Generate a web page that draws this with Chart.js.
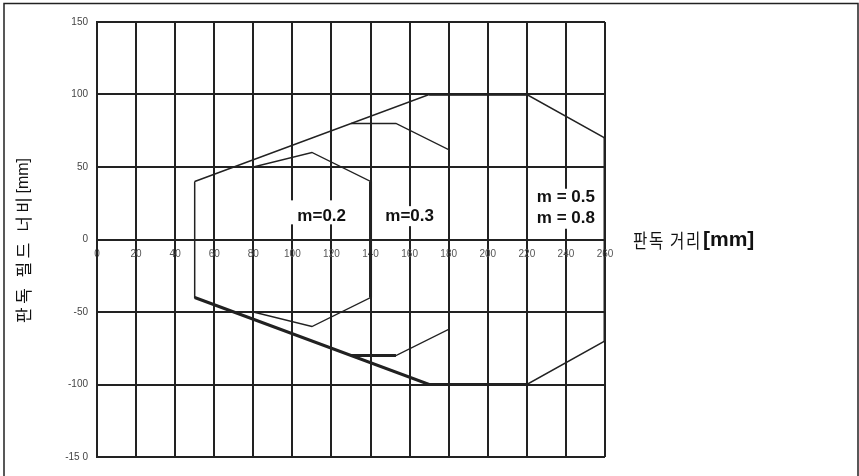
<!DOCTYPE html>
<html>
<head>
<meta charset="utf-8">
<script src="https://cdn.jsdelivr.net/npm/chart.js@4"></script>
<style>
  html, body { margin: 0; padding: 0; background: #fff; }
  #wrap { width: 859px; height: 476px; }
</style>
</head>
<body>
<div id="wrap"><canvas id="fieldChart"></canvas></div>
<script>
// 판독 필드 (거리 vs 너비), 값은 그림에서 읽음
const xTicks = [0, 20, 40, 60, 80, 100, 120, 140, 160, 180, 200, 220, 240, 260];
const yTicks = [150, 100, 50, 0, -50, -100, -150];
const yTickLabels = ['150', '100', '50', '0', '-50', '-100', '-15 0'];

// m = 0.5 / m = 0.8 (바깥 영역)
const outerX = [50, 170, 220, 260, 260, 220, 170, 50, 50];
const outerY = [40, 100, 100, 70, -70, -100, -100, -40, 40];
// m = 0.3
const m03X = [130, 153, 180, 180, 153, 130];
const m03Y = [80, 80, 62, -62, -80, -80];
// m = 0.2
const m02X = [70, 80, 110, 140, 140, 110, 80, 70];
const m02Y = [50, 50, 60, 40, -40, -60, -50, -50];
// 굵게 그려진 부분
const boldLowerX = [50, 170, 220];
const boldLowerY = [-40, -100, -100];
const boldTopX = [170, 220];
const boldTopY = [100, 100];
const boldRightX = [260, 260];
const boldRightY = [70, -70];
const boldM02X = [140, 140];
const boldM02Y = [40, -40];
const boldM03X = [130, 153];
const boldM03Y = [-80, -80];

const seriesLabels = ['m=0.2', 'm=0.3', 'm = 0.5', 'm = 0.8'];
const xTitle = '판독 거리';
const yTitle = '판독 필드 너비';
const unit = '[mm]';

const ink = '#222';

function pts(xs, ys) {
    return xs.map((x, i) => ({ x: x, y: ys[i] }));
}

function lineSet(label, xs, ys, width) {
    return {
        label: label,
        data: pts(xs, ys),
        showLine: true,
        borderColor: ink,
        borderWidth: width,
        pointRadius: 0,
        fill: false,
        tension: 0
    };
}

// 영역 이름 (데이터 좌표 위치)
const notes = [
    { text: seriesLabels[0], x: 115, y: 16 },
    { text: seriesLabels[1], x: 160, y: 16 },
    { text: seriesLabels[2], x: 240, y: 29 },
    { text: seriesLabels[3], x: 240, y: 14.5 }
];

const extras = {
    id: 'extras',
    afterDatasetsDraw(chart) {
        const c = chart.ctx;
        const xs = chart.scales.x, ys = chart.scales.y;
        c.save();
        // 글자 뒤 흰 바탕
        c.fillStyle = '#fff';
        c.fillRect(xs.getPixelForValue(99), ys.getPixelForValue(27), 64, 24);
        c.fillRect(xs.getPixelForValue(144), ys.getPixelForValue(23), 62, 20);
        c.fillRect(xs.getPixelForValue(222), ys.getPixelForValue(35), 70, 40);

        c.fillStyle = '#111';
        c.font = 'bold 17px "Liberation Sans", Arial, sans-serif';
        c.textAlign = 'center';
        c.textBaseline = 'middle';
        notes.forEach(n => {
            c.fillText(n.text, xs.getPixelForValue(n.x), ys.getPixelForValue(n.y));
        });

        // x축 제목 (오른쪽)
        const ty = ys.getPixelForValue(0) + 1;
        c.textAlign = 'left';
        c.save();
        c.translate(633, ty);
        c.scale(0.82, 1);
        c.font = '19px "Noto Sans CJK KR", sans-serif';
        c.letterSpacing = '2px';
        c.fillText(xTitle, 0, 0);
        const w = c.measureText(xTitle).width * 0.82;
        c.restore();
        c.font = 'bold 21px "Liberation Sans", Arial, sans-serif';
        c.fillText(unit, 633 + w + 1, ty);

        // y축 제목 (세로, 아래에서 위로)
        c.save();
        c.translate(24, 323);
        c.rotate(-Math.PI / 2);
        c.textAlign = 'left';
        c.font = '17px "Noto Sans CJK KR", sans-serif';
        c.letterSpacing = '3.5px';
        c.fillText(yTitle, 0, 0);
        const wy = c.measureText(yTitle).width;
        c.letterSpacing = '0px';
        c.font = '16px "Liberation Sans", Arial, sans-serif';
        c.fillText(unit, wy, 0);
        c.restore();

        // 바깥 테두리
        c.strokeStyle = ink;
        c.lineWidth = 1.5;
        c.beginPath();
        c.moveTo(4, 490);
        c.lineTo(4, 3.5);
        c.lineTo(858, 3.5);
        c.lineTo(858, 490);
        c.stroke();
        c.restore();
    }
};

new Chart(document.getElementById('fieldChart'), {
    type: 'scatter',
    data: {
        datasets: [
            lineSet('m = 0.5 / 0.8', outerX, outerY, 1.5),
            lineSet('m = 0.3', m03X, m03Y, 1.3),
            lineSet('m = 0.2', m02X, m02Y, 1.3),
            lineSet('b1', boldLowerX, boldLowerY, 3),
            lineSet('b2', boldTopX, boldTopY, 2.5),
            lineSet('b3', boldRightX, boldRightY, 3),
            lineSet('b4', boldM02X, boldM02Y, 3),
            lineSet('b5', boldM03X, boldM03Y, 3)
        ]
    },
    options: {
        responsive: true,
        maintainAspectRatio: false,
        animation: false,
        events: [],
        layout: { padding: { top: 22, right: 254, bottom: 19, left: 0 } },
        plugins: {
            legend: { display: false },
            tooltip: { enabled: false }
        },
        scales: {
            x: {
                type: 'linear',
                position: { y: 0 },
                min: 0,
                max: 260,
                afterBuildTicks: s => { s.ticks = xTicks.map(v => ({ value: v })); },
                grid: { color: ink, lineWidth: 2, drawTicks: false },
                border: { color: ink, width: 2 },
                ticks: {
                    autoSkip: false,
                    maxRotation: 0,
                    padding: 9,
                    color: '#555',
                    font: { family: '"Liberation Sans", Arial, sans-serif', size: 10 }
                }
            },
            y: {
                type: 'linear',
                min: -150,
                max: 150,
                afterBuildTicks: s => { s.ticks = yTicks.map(v => ({ value: v })); },
                afterFit: s => { s.width = 97; },
                grid: { color: ink, lineWidth: 2, drawTicks: false },
                border: { color: ink, width: 2 },
                ticks: {
                    padding: 9,
                    color: '#444',
                    font: { family: '"Liberation Sans", Arial, sans-serif', size: 10 },
                    callback: v => yTickLabels[yTicks.indexOf(v)]
                }
            }
        }
    },
    plugins: [extras]
});
</script>
</body>
</html>
